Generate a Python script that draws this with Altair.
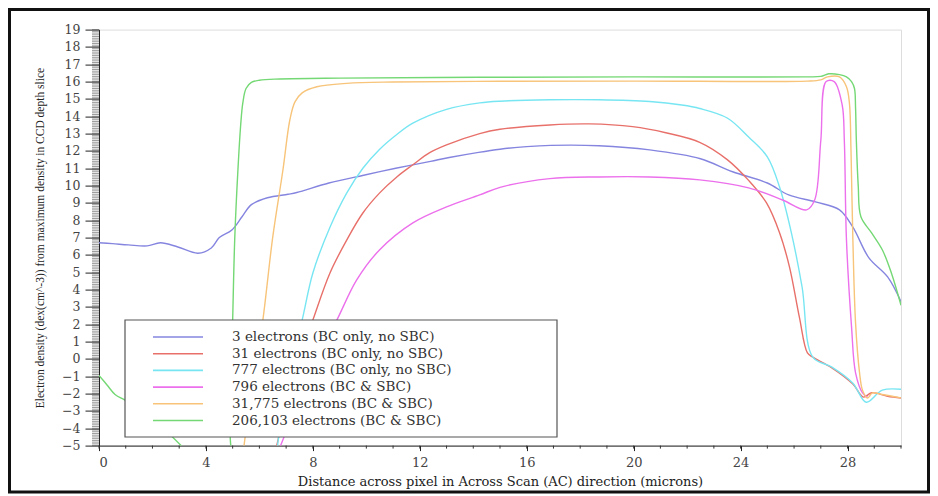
import altair as alt
import pandas as pd
import numpy as np

series_names = [
    "3 electrons (BC only, no SBC)",
    "31 electrons (BC only, no SBC)",
    "777 electrons (BC only, no SBC)",
    "796 electrons (BC & SBC)",
    "31,775 electrons (BC & SBC)",
    "206,103 electrons (BC & SBC)",
]
series_colors = ["#8585e0", "#e8706a", "#78e6f2", "#ec70ec", "#f7c47a", "#74d874"]

blue_x = [0, 0.5, 1.1, 1.8, 2.3, 2.95, 3.7, 4.2, 4.5, 4.97, 5.35, 5.7, 6.3, 7.07, 7.4, 8.6, 9.9, 11.1, 12.4, 13.1, 14.2, 15.0, 16.0, 16.9, 18.7, 20.6, 22.5, 23.7, 25.0, 25.8, 26.8, 27.7, 28.2, 28.8, 29.5, 30]
blue_y = [6.7, 6.65, 6.58, 6.52, 6.7, 6.46, 6.1, 6.4, 7.0, 7.44, 8.2, 8.9, 9.3, 9.5, 9.6, 10.15, 10.6, 11.0, 11.4, 11.62, 11.92, 12.1, 12.25, 12.32, 12.3, 12.06, 11.55, 10.8, 10.15, 9.46, 9.06, 8.6, 7.6, 5.83, 4.73, 3.3]

red_x = [6.5, 7.2, 7.6, 8.0, 8.64, 9.27, 9.87, 10.5, 11.14, 11.74, 12.37, 13.0, 14.24, 15.0, 16.86, 18.35, 19.96, 21.2, 22.47, 23.5, 24.3, 24.97, 25.46, 25.83, 26.2, 26.5, 26.7, 27.4, 28.2, 28.6, 28.9, 29.5, 30]
red_y = [-6, -1.5, 0.5, 2.25, 4.96, 6.87, 8.42, 9.58, 10.5, 11.2, 11.9, 12.35, 13.0, 13.25, 13.5, 13.56, 13.4, 13.05, 12.5, 11.5, 10.3, 9.0, 7.27, 5.3, 2.4, 0.35, 0.1, -0.5, -1.45, -2.2, -1.95, -2.15, -2.25]

cyan_x = [6.6, 7.0, 7.3, 7.6, 8.0, 8.64, 9.27, 9.87, 10.5, 11.14, 11.74, 13.0, 14.24, 15.0, 16.86, 18.7, 20.6, 21.8, 22.47, 23.5, 24.3, 25.0, 25.46, 25.9, 26.3, 26.7, 27.4, 28.2, 28.7, 29.3, 30]
cyan_y = [-6, -1.5, 0.5, 2.25, 4.96, 7.6, 9.58, 11.0, 12.1, 12.95, 13.6, 14.4, 14.77, 14.87, 14.95, 14.95, 14.85, 14.65, 14.45, 13.9, 12.8, 11.66, 9.9, 7.27, 4.15, 0.1, -0.46, -1.4, -2.5, -1.8, -1.75]

pink_x = [6.4, 7.0, 7.8, 8.4, 8.9, 9.64, 10.5, 11.74, 13.0, 14.24, 15.0, 16.86, 18.7, 20.6, 22.47, 24.3, 25.57, 26.47, 26.77, 27.0, 27.2, 27.5, 27.8, 27.88, 27.96, 28.15, 28.3, 28.56, 28.75]
pink_y = [-6.5, -4.2, -1.0, 0.8, 2.25, 4.56, 6.3, 7.85, 8.77, 9.46, 9.9, 10.4, 10.5, 10.5, 10.33, 9.87, 9.17, 8.6, 9.17, 12.6, 16.0, 16.0, 14.65, 12.6, 6.87, 1.85, -0.8, -1.96, -2.2]

orange_x = [5.3, 5.6, 5.9, 6.13, 6.5, 6.88, 7.14, 7.33, 7.6, 8.15, 9.27, 11.0, 15.0, 20.0, 26.5, 27.0, 27.25, 27.7, 27.96, 28.07, 28.13, 28.2, 28.3, 28.45, 28.56, 28.75, 28.93, 29.3, 30]
orange_y = [-6.5, -3, 0, 2.25, 7.04, 10.9, 13.8, 14.83, 15.35, 15.7, 15.9, 15.98, 16.02, 16.03, 16.03, 16.1, 16.27, 16.27, 15.7, 14.77, 12.0, 6.87, 2.08, -0.8, -1.8, -2.25, -1.96, -2.05, -2.25]

green_x = [0, 0.3, 0.6, 1.0, 1.6, 2.4, 3.2, 4.0, 4.85, 4.9, 4.95, 5.0, 5.08, 5.2, 5.3, 5.38, 5.5, 5.7, 6.0, 6.77, 9.0, 14.2, 20.0, 26.5, 27.0, 27.3, 27.7, 27.96, 28.15, 28.26, 28.3, 28.33, 28.4, 28.5, 28.9, 29.3, 29.64, 30]
green_y = [-0.95, -1.5, -2.05, -2.4, -3.0, -4.0, -5.2, -6.5, -7, -4, -1, 2.25, 7.04, 11.0, 13.5, 14.77, 15.6, 15.95, 16.08, 16.15, 16.2, 16.25, 16.27, 16.27, 16.3, 16.45, 16.4, 16.27, 16.0, 15.6, 14.5, 12.6, 10.0, 8.2, 7.27, 6.3, 4.96, 3.1]

all_x = [blue_x, red_x, cyan_x, pink_x, orange_x, green_x]
all_y = [blue_y, red_y, cyan_y, pink_y, orange_y, green_y]

x_ticks = [0, 4, 8, 12, 16, 20, 24, 28]
y_ticks = list(range(-5, 20))

W, H = 802, 416
FONT = "DejaVu Serif"

xs = alt.Scale(domain=[0, 30], nice=False, zero=False)
ys = alt.Scale(domain=[-5, 19], nice=False, zero=False)
cs = alt.Scale(domain=series_names, range=series_colors)

x_title = "Distance across pixel in Across Scan (AC) direction (microns)"
y_title = "Electron density (dex(cm^-3)) from maximum density in CCD depth slice"

xaxis = alt.Axis(values=x_ticks, grid=False, tickSize=5, labelPadding=6, labelFont=FONT,
                 labelFontSize=13, labelColor="#444", domainColor="#222", tickColor="#222",
                 titleFont=FONT, titleFontSize=13, titleFontWeight="normal",
                 titleColor="#222", titlePadding=6)
yaxis = alt.Axis(values=y_ticks, grid=False, tickSize=14, labelPadding=5, labelFont=FONT,
                 labelFontSize=12.5, labelColor="#444", domainColor="#222", tickColor="#222",
                 titleFont="Liberation Serif", titleFontSize=11.5, titleFontWeight="normal",
                 titleColor="#222", titlePadding=16)

legend = alt.Legend(title=None, orient="none", legendX=53, legendY=300.4, symbolType="stroke",
                    symbolSize=2500, symbolStrokeWidth=1.6, clipHeight=14, rowPadding=2.7,
                    labelOffset=28, labelFont=FONT, labelFontSize=13.5, labelColor="#333",
                    padding=0, labelLimit=400)

one = pd.DataFrame({"a": [0]})

outer = alt.Chart(one).mark_rect(fill=None, fillOpacity=0, stroke="#111", strokeWidth=3).encode(
    x=alt.value(-89.5), x2=alt.value(829.5), y=alt.value(-20.1), y2=alt.value(462.4))

ymin = pd.DataFrame({"v": np.round(np.arange(-5, 19.001, 0.1), 2)})
yminor = alt.Chart(ymin).mark_rule(stroke="#555", strokeWidth=0.6).encode(
    y=alt.Y("v:Q", scale=ys, axis=yaxis, title=y_title), x=alt.value(-7), x2=alt.value(0))

xmin = pd.DataFrame({"v": list(range(0, 31))})
xminor = alt.Chart(xmin).mark_rule(stroke="#333", strokeWidth=1).encode(
    x=alt.X("v:Q", scale=xs, axis=xaxis, title=x_title), y=alt.value(H), y2=alt.value(H + 3))

line_layers = []
for name, xv, yv in zip(series_names, all_x, all_y):
    df = pd.DataFrame({"x": xv, "y": yv, "series": name})
    line_layers.append(
        alt.Chart(df).mark_line(clip=True, strokeWidth=1.4, interpolate="catmull-rom").encode(
            x=alt.X("x:Q", scale=xs, axis=xaxis, title=x_title),
            y=alt.Y("y:Q", scale=ys, axis=yaxis, title=y_title),
            color=alt.Color("series:N", scale=cs, legend=legend),
        )
    )

legbox = alt.Chart(one).mark_rect(fill="white", stroke="#555", strokeWidth=1.2).encode(
    x=alt.value(26), x2=alt.value(458), y=alt.value(290.4), y2=alt.value(407.4))

chart = alt.layer(outer, yminor, xminor, *line_layers, legbox).properties(
    width=W, height=H,
    autosize=alt.AutoSizeParams(type="none"),
    padding={"left": 91, "top": 21.6, "right": 29, "bottom": 49.4},
).configure_view(stroke="#999", strokeWidth=1.5).configure(background="white")

chart.save("out.html", embed_options={"renderer": "svg", "actions": False})
